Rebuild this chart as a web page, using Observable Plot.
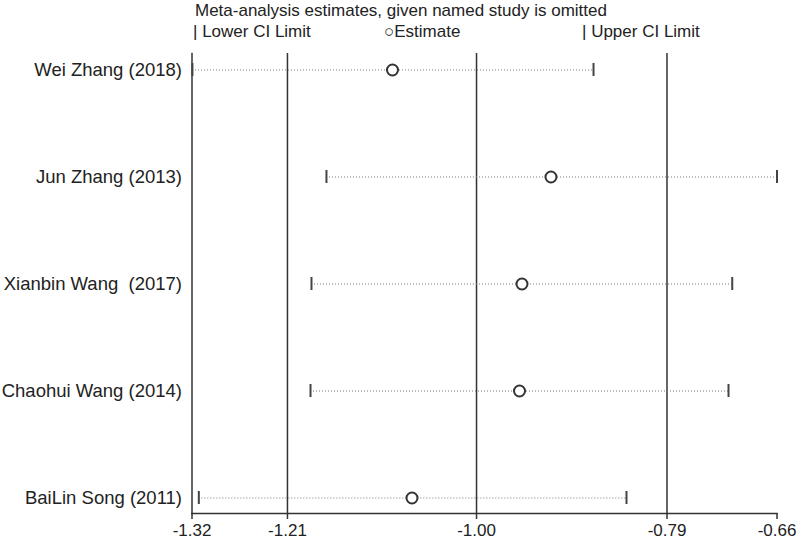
<!DOCTYPE html>
<html>
<head>
<meta charset="utf-8">
<script src="https://cdn.jsdelivr.net/npm/d3@7"></script>
<script src="https://cdn.jsdelivr.net/npm/@observablehq/plot@0.6"></script>
<style>
  body { margin: 0; background: #fff; font-family: "Liberation Sans", Arial, sans-serif; }
  #wrap { width: 800px; }
  #head { position: relative; height: 44px; color: #222; font-size: 17px; }
  #head span { position: absolute; white-space: pre; }
  svg text { white-space: pre; }
</style>
</head>
<body>
<div id="wrap">
  <div id="head">
    <span id="title" style="left:195px; top:1px;"></span>
    <span id="lg0" style="left:193px; top:22px;"></span>
    <span id="lg1" style="left:384px; top:22px;"></span>
    <span id="lg2" style="left:582px; top:22px;"></span>
  </div>
  <div id="chart"></div>
</div>
<script>
const titleText = "Meta-analysis estimates, given named study is omitted";
const legendLabels = ["| Lower CI Limit", "\u25CBEstimate", "| Upper CI Limit"];

const studies = ["Wei Zhang (2018)", "Jun Zhang (2013)", "Xianbin Wang  (2017)", "Chaohui Wang (2014)", "BaiLin Song (2011)"];
const lower    = [-1.3195, -1.1683, -1.1852, -1.1863, -1.3123];
const estimate = [-1.0938, -0.9150, -0.9477, -0.9505, -1.0718];
const upper    = [-0.8670, -0.6600, -0.7105, -0.7147, -0.8298];

const xTicks = [-1.32, -1.2123, -0.9990, -0.7841, -0.66];
const xTickLabels = ["-1.32", "-1.21", "-1.00", "-0.79", "-0.66"];
const overall = [xTicks[1], xTicks[2], xTicks[3]];

document.getElementById("title").textContent = titleText;
legendLabels.forEach((t, i) => document.getElementById("lg" + i).textContent = t);

const rows = studies.map((s, i) => ({study: s, lower: lower[i], estimate: estimate[i], upper: upper[i]}));

const chart = Plot.plot({
  width: 800,
  height: 497,
  marginLeft: 191.5,
  marginRight: 23.5,
  marginTop: 9,
  marginBottom: 28,
  style: {fontFamily: "'Liberation Sans', Arial, sans-serif", fontSize: "17px", color: "#222", background: "#fff"},
  x: {domain: [-1.32, -0.66], ticks: xTicks, tickFormat: (d, i) => xTickLabels[i], tickSize: 6, tickPadding: 3, label: null},
  y: {type: "band", domain: studies, paddingInner: 0.879, paddingOuter: 0.079, label: null, tickSize: 0, tickPadding: 10},
  marks: [
    Plot.ruleX(overall, {stroke: "#333", strokeWidth: 1.5}),
    Plot.frame({anchor: "left", stroke: "#333", strokeWidth: 1.5}),
    Plot.frame({anchor: "bottom", stroke: "#333", strokeWidth: 1.5}),
    Plot.ruleY(rows, {y: "study", x1: "lower", x2: "upper", stroke: "#777", strokeWidth: 1.2, strokeDasharray: "1,2"}),
    Plot.tickX(rows, {x: "lower", y: "study", stroke: "#444", strokeWidth: 2}),
    Plot.tickX(rows, {x: "upper", y: "study", stroke: "#444", strokeWidth: 2}),
    Plot.dot(rows, {x: "estimate", y: "study", r: 5.5, stroke: "#333", strokeWidth: 2, fill: "#fff"}),
    Plot.axisX({ticks: xTicks, tickFormat: (d, i) => xTickLabels[i], tickSize: 6, tickPadding: 4, stroke: "#333", strokeWidth: 1.5, fontSize: 17, label: null}),
    Plot.axisY({tickSize: 0, tickPadding: 10, fontSize: 18.5, label: null})
  ]
});
document.getElementById("chart").appendChild(chart);
</script>
</body>
</html>
